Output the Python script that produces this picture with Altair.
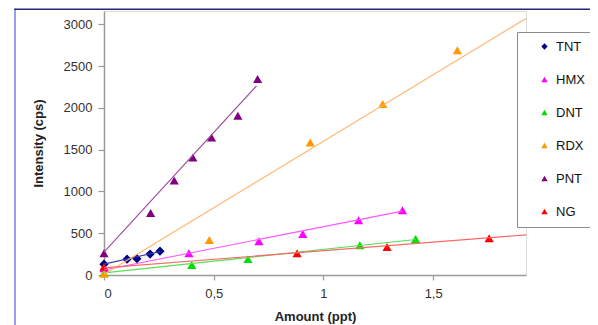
import altair as alt
import pandas as pd

# ---- data ----
series = ["TNT", "HMX", "DNT", "RDX", "PNT", "NG"]
point_colors = ["#000080", "#ff00ff", "#00dd00", "#ff9900", "#800080", "#ff0000"]
line_colors = ["#3a3ab0", "#ff55ff", "#55e055", "#ffb366", "#9a4a9a", "#ff6666"]
shapes = ["diamond", "triangle-up", "triangle-up", "triangle-up", "triangle-up", "triangle-up"]

tnt_amount = [0, 0.105, 0.15, 0.21, 0.255]
tnt_intensity = [130, 190, 195, 250, 285]
hmx_amount = [0, 0.387, 0.706, 0.906, 1.16, 1.36]
hmx_intensity = [80, 260, 405, 490, 655, 775]
dnt_amount = [0, 0.40, 0.656, 1.166, 1.42]
dnt_intensity = [25, 120, 190, 357, 430]
rdx_amount = [0, 0.48, 0.94, 1.27, 1.61]
rdx_intensity = [15, 420, 1585, 2048, 2690]
pnt_amount = [0, 0.2125, 0.32, 0.405, 0.49, 0.61, 0.70]
pnt_intensity = [260, 742, 1130, 1405, 1645, 1905, 2345]
ng_amount = [0, 0.88, 1.29, 1.755]
ng_intensity = [100, 260, 335, 440]

# trend lines (start / end)
trend_start_amount = [0, 0, 0, 0, 0, 0]
trend_start_intensity = [130, 60, 25, 8, 275, 85]
trend_end_amount = [0.255, 1.36, 1.42, 1.923, 0.695, 1.923]
trend_end_intensity = [280, 765, 425, 3071, 2264, 480]

x_ticks = [0, 0.5, 1, 1.5]
y_ticks = [0, 500, 1000, 1500, 2000, 2500, 3000]
x_domain = [0, 1.923]
y_domain = [0, 3160]

# ---- tables ----
amounts = [tnt_amount, hmx_amount, dnt_amount, rdx_amount, pnt_amount, ng_amount]
intens = [tnt_intensity, hmx_intensity, dnt_intensity, rdx_intensity, pnt_intensity, ng_intensity]
rows = []
for i, s in enumerate(series):
    for a, v in zip(amounts[i], intens[i]):
        rows.append({"series": s, "amount": a, "intensity": v, "k": i})
points_df = pd.DataFrame(rows)

trows = []
for i, s in enumerate(series):
    trows.append({"series": s, "amount": trend_start_amount[i], "intensity": trend_start_intensity[i]})
    trows.append({"series": s, "amount": trend_end_amount[i], "intensity": trend_end_intensity[i]})
trend_df = pd.DataFrame(trows)

x_enc = alt.X(
    "amount:Q",
    scale=alt.Scale(domain=x_domain, nice=False, zero=False),
    axis=alt.Axis(
        values=x_ticks,
        labelExpr="replace(toString(datum.value), '.', ',')",
        title="Amount (ppt)",
        grid=False,
        domainColor="#9a9a9a", domainWidth=1.5,
        tickColor="#9a9a9a", tickSize=5, tickWidth=1.2,
        labelFontSize=13, labelColor="#333333", labelPadding=7,
        labelFont="Liberation Sans", titleFont="Liberation Sans",
        titleFontSize=13, titleFontWeight="bold", titleColor="#222222",
        titlePadding=10,
    ),
)
y_enc = alt.Y(
    "intensity:Q",
    scale=alt.Scale(domain=y_domain, nice=False),
    axis=alt.Axis(
        values=y_ticks,
        format="d",
        title="Intensity (cps)",
        grid=False,
        domainColor="#9a9a9a", domainWidth=1.5,
        tickColor="#9a9a9a", tickSize=6, tickWidth=1.2,
        labelFontSize=13, labelColor="#333333", labelPadding=6,
        labelFont="Liberation Sans", titleFont="Liberation Sans",
        titleFontSize=13, titleFontWeight="bold", titleColor="#222222",
        titlePadding=18,
    ),
)

legend_opts = dict(
    title=None, orient="none", legendX=413, legendY=21,
    fillColor="white", strokeColor="#8a8a8a",
    padding=8, symbolOffset=13, labelOffset=5, rowPadding=19,
    labelFontSize=13, labelFont="Liberation Sans", labelColor="#111111",
    symbolSize=40, symbolStrokeWidth=0,
)

pts = alt.Chart(points_df).mark_point(filled=True, opacity=1, size=85).encode(
    x=x_enc,
    y=y_enc,
    color=alt.Color("series:N", scale=alt.Scale(domain=series, range=point_colors),
                    legend=alt.Legend(**legend_opts)),
    shape=alt.Shape("series:N", scale=alt.Scale(domain=series, range=shapes),
                    legend=alt.Legend(**legend_opts)),
    order=alt.Order("k:Q"),
)

lines = alt.Chart(trend_df).mark_line(strokeWidth=1.1).encode(
    x=alt.X("amount:Q"),
    y=alt.Y("intensity:Q"),
    stroke=alt.Stroke("series:N", scale=alt.Scale(domain=series, range=line_colors), legend=None),
    detail="series:N",
)

frame_df = pd.DataFrame({"f": [0]})
border_left = alt.Chart(frame_df).mark_rect(color="#5a5ae6").encode(
    x=alt.value(-89.6), x2=alt.value(-88.4), y=alt.value(-2.5), y2=alt.value(330)
)
border_top = alt.Chart(frame_df).mark_rect(color="#26267a").encode(
    x=alt.value(-89.6), x2=alt.value(500), y=alt.value(-2.5), y2=alt.value(-0.9)
)

chart = (
    alt.layer(border_left, border_top, pts, lines)
    .properties(
        width=422,
        height=264,
        autosize=alt.AutoSizeParams(type="none"),
        padding={"left": 96, "top": 3, "right": 64, "bottom": 50},
    )
    .configure_view(stroke=None)
    .configure_legend(strokeWidth=1.5)
    .configure(background="white")
)

chart.save("out.html", embed_options={"renderer": "svg", "actions": False})
